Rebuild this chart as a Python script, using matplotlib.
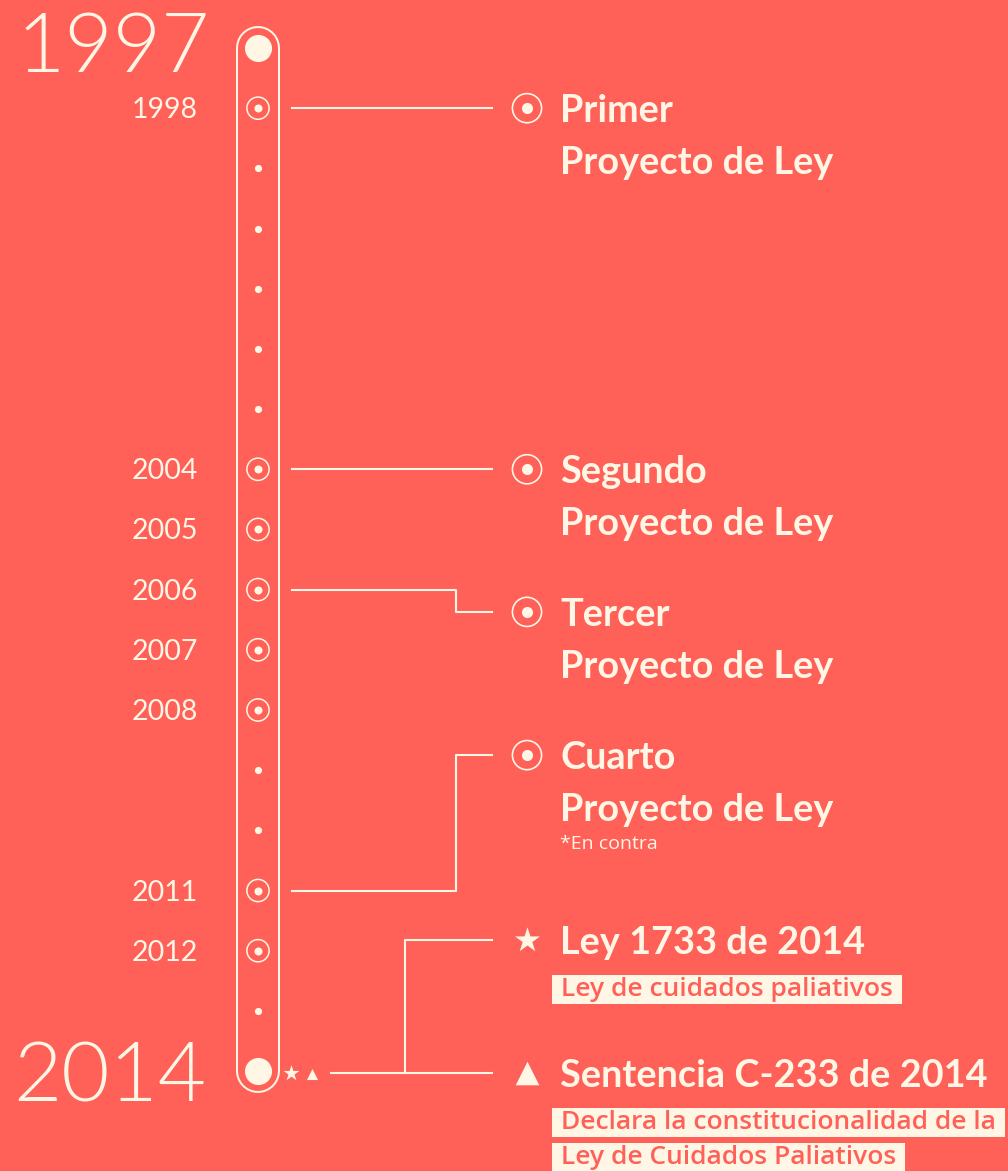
import matplotlib
matplotlib.use("Agg")
import matplotlib.pyplot as plt

# ---------------- data ----------------
all_years = list(range(1997, 2015))
endpoint_years = [1997, 2014]
event_years = [1998, 2004, 2005, 2006, 2007, 2008, 2011, 2012]
year_labels = ["1998", "2004", "2005", "2006", "2007", "2008", "2011", "2012"]

proj_titles = ["Primer", "Segundo", "Tercer", "Cuarto"]
proj_source_years = [1998, 2004, 2006, 2011]
proj_label_pos = [1998.0, 2004.0, 2006.37, 2008.75]
proj_subtitle = "Proyecto de Ley"
proj_note = "*En contra"

law_titles = ["Ley 1733 de 2014", "Sentencia C-233 de 2014"]
law_source_year = 2014
law_label_pos = [2011.82, 2014.03]
law_markers = ["*", "^"]
law_desc = [["Ley de cuidados paliativos"],
            ["Declara la constitucionalidad de la", "Ley de Cuidados Paliativos"]]

# ---------------- style ----------------
BG = "#FF6057"
CREAM = "#FFF6E6"
W, H = 1008, 1171
PX_PER_YEAR = 60.18
TOP_PX = 48

fig = plt.figure(figsize=(W / 100, H / 100), dpi=100, facecolor=BG)
ax = fig.add_axes([0, 0, 1, 1])
ax.set_facecolor(BG)
ax.set_xlim(0, W)
ax.set_ylim(1997 + (H - TOP_PX) / PX_PER_YEAR, 1997 - TOP_PX / PX_PER_YEAR)
ax.axis("off")

def dy(px):
    return px / PX_PER_YEAR

XC = 258  # timeline centre
# capsule outline
ax.plot([XC, XC], [all_years[0], all_years[-1]], color=CREAM, lw=44 * 0.72,
        solid_capstyle="round", zorder=1)
ax.plot([XC, XC], [all_years[0], all_years[-1]], color=BG, lw=40 * 0.72,
        solid_capstyle="round", zorder=2)

plain_years = [y for y in all_years if y not in event_years and y not in endpoint_years]
ax.scatter([XC] * len(plain_years), plain_years, s=5.2 ** 2, color=CREAM, zorder=3, lw=0)
ax.scatter([XC] * len(endpoint_years), endpoint_years, s=19.5 ** 2, color=CREAM, zorder=3, lw=0)
ax.scatter([XC] * len(event_years), event_years, s=16 ** 2, facecolor="none",
           edgecolor=CREAM, lw=1.1, zorder=3)
ax.scatter([XC] * len(event_years), event_years, s=5.8 ** 2, color=CREAM, zorder=3, lw=0)

# year labels
for y, lab in zip(event_years, year_labels):
    ax.text(198, y + dy(2), lab, ha="right", va="center", color=CREAM, fontsize=20.5,
            family="Lato", fontweight="normal")
ax.text(210, endpoint_years[0] + dy(1), str(endpoint_years[0]), ha="right", va="center",
        color=CREAM, fontsize=60, family="Lato", fontweight=300)
ax.text(206, endpoint_years[1] + dy(8), str(endpoint_years[1]), ha="right", va="center",
        color=CREAM, fontsize=60, family="Lato", fontweight=300)

LW = 1.5
X0, X1, XMID = 292, 492, 456
ICON_X, TEXT_X = 527, 560
TFS = 27.3
TOFF = dy(3)
for src, pos, title in zip(proj_source_years, proj_label_pos, proj_titles):
    if abs(src - pos) < 1e-6:
        ax.plot([X0, X1], [src, src], color=CREAM, lw=LW, zorder=2)
    else:
        ax.plot([X0, XMID, XMID, X1], [src, src, pos, pos], color=CREAM, lw=LW, zorder=2)
    ax.scatter([ICON_X], [pos], s=21 ** 2, facecolor="none", edgecolor=CREAM, lw=1.2, zorder=3)
    ax.scatter([ICON_X], [pos], s=8 ** 2, color=CREAM, lw=0, zorder=3)
    ax.text(TEXT_X, pos + TOFF, title, ha="left", va="center", color=CREAM, fontsize=TFS,
            family="Lato", fontweight="bold")
    ax.text(TEXT_X, pos + TOFF + dy(52), proj_subtitle, ha="left", va="center", color=CREAM,
            fontsize=TFS, family="Lato", fontweight="bold")
ax.text(TEXT_X, proj_label_pos[-1] + dy(89), proj_note, ha="left", va="center",
        color=CREAM, fontsize=14, family="Open Sans")

# 2014 connectors
XS, XB = 331, 405
ax.plot([XS, X1], [law_label_pos[1], law_label_pos[1]], color=CREAM, lw=LW, zorder=2)
ax.plot([XB, XB, X1], [law_label_pos[1], law_label_pos[0], law_label_pos[0]],
        color=CREAM, lw=LW, zorder=2)
ax.scatter([291], [law_source_year + dy(2)], marker="*", s=12 ** 2, color=CREAM, lw=0, zorder=3)
ax.scatter([312], [law_source_year + dy(3)], marker="^", s=8 ** 2, color=CREAM, lw=0, zorder=3)

for pos, title, mk, descs in zip(law_label_pos, law_titles, law_markers, law_desc):
    ax.scatter([ICON_X], [pos], marker=mk, s=(19 if mk == "*" else 17) ** 2,
               color=CREAM, lw=0, zorder=3)
    ax.text(TEXT_X, pos + TOFF, title, ha="left", va="center", color=CREAM, fontsize=TFS,
            family="Lato", fontweight="bold")
    for i, d in enumerate(descs):
        ax.text(TEXT_X - 6, pos + dy(50 + 35 * i), " " + d + " ", ha="left", va="center",
                color=BG, fontsize=19, family="Open Sans", fontweight="semibold",
                bbox=dict(boxstyle="square,pad=0.08", facecolor=CREAM, edgecolor="none"))

fig.savefig("out.png", dpi=100, facecolor=BG)
